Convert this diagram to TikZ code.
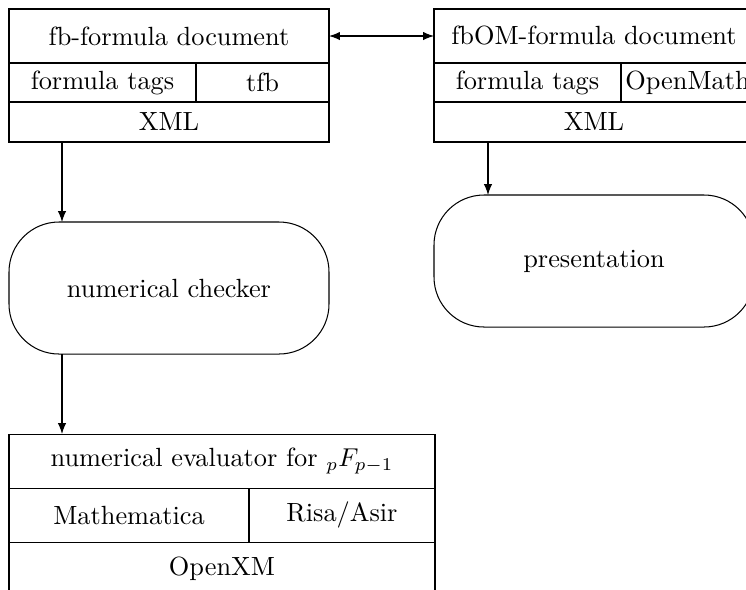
\documentclass[tikz,border=0pt]{standalone}
\usetikzlibrary{arrows.meta}
\newcommand\pxu{0.3876pt}
\begin{document}
\begin{tikzpicture}[x=0.3876pt,y=-0.3876pt,
  every node/.style={font=\fontsize{10.2}{12}\selectfont},
  cell/.style={draw, line width=0.4pt, anchor=north west, inner sep=0pt, outer sep=0pt},
  rbox/.style={draw, line width=0.4pt, anchor=north west, inner sep=0pt, outer sep=0pt, rounded corners=50*\pxu},
  arr/.style={-{Latex[length=4.2pt,width=3.2pt]}, line width=0.4pt},
  darr/.style={{Latex[length=4.2pt,width=3.2pt]}-{Latex[length=4.2pt,width=3.2pt]}, line width=0.4pt}]
\useasboundingbox (0,0) rectangle (746,589);
\clip (0,0) rectangle (746,589);
% fb-formula document
\node[cell, minimum width=320*\pxu, minimum height=54*\pxu] (d1) at (9,9) {fb-formula document};
\node[cell, minimum width=187*\pxu, minimum height=39*\pxu] (t1) at (9,63) {formula tags};
\node[cell, minimum width=133*\pxu, minimum height=39*\pxu] (f1) at (196,63) {tfb};
\node[cell, minimum width=320*\pxu, minimum height=40*\pxu] (x1) at (9,102) {XML};
% fbOM-formula document
\node[cell, minimum width=320*\pxu, minimum height=54*\pxu] (d2) at (434,9) {fbOM-formula document};
\node[cell, minimum width=187*\pxu, minimum height=39*\pxu] (t2) at (434,63) {formula tags};
\node[cell, minimum width=133*\pxu, minimum height=39*\pxu] (o2) at (621,63) {OpenMath};
\node[cell, minimum width=320*\pxu, minimum height=40*\pxu] (x2) at (434,102) {XML};
% rounded nodes
\node[rbox, minimum width=320*\pxu, minimum height=132*\pxu] (chk) at (9,222) {numerical checker};
\node[rbox, minimum width=320*\pxu, minimum height=132*\pxu] (pres) at (434,195) {presentation};
% evaluator
\node[cell, minimum width=426*\pxu, minimum height=54*\pxu] (ev) at (9,434) {numerical evaluator for ${}_pF_{p-1}$};
\node[cell, minimum width=240*\pxu, minimum height=54*\pxu] (ma) at (9,488) {Mathematica};
\node[cell, minimum width=186*\pxu, minimum height=54*\pxu] (ra) at (249,488) {Risa/Asir};
\node[cell, minimum width=426*\pxu, minimum height=54*\pxu] (ox) at (9,542) {OpenXM};
% connectors
\draw[darr] (d1.east) -- (d2.west);
\draw[arr] ([xshift=53*\pxu]x1.south west) -- ([xshift=53*\pxu]chk.north west);
\draw[arr] ([xshift=54*\pxu]x2.south west) -- ([xshift=54*\pxu]pres.north west);
\draw[arr] ([xshift=53*\pxu]chk.south west) -- ([xshift=53*\pxu]ev.north west);
\end{tikzpicture}
\end{document}
